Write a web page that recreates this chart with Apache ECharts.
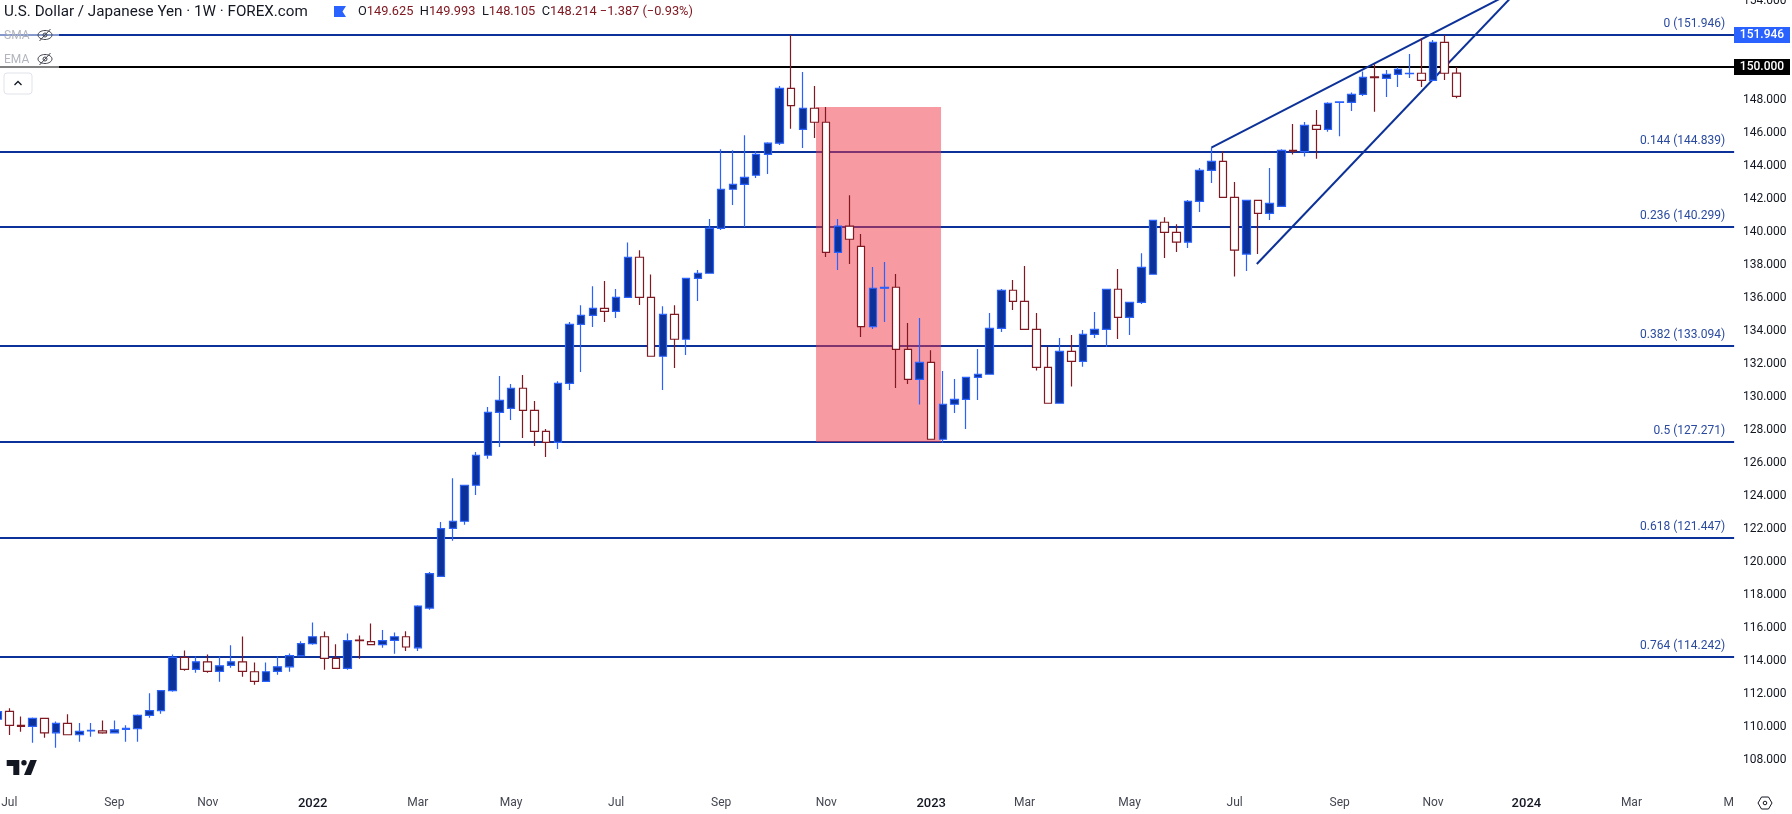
<!DOCTYPE html>
<html><head><meta charset="utf-8">
<style>html,body{margin:0;padding:0;background:#fff}#c{width:1792px;height:814px}</style>
<script src="https://cdn.jsdelivr.net/npm/echarts@6/dist/echarts.min.js"></script>
</head><body><div id="c"></div>
<script>
const opens=[110.47,110.95,110.10,110.04,110.52,109.65,110.22,109.53,109.77,109.77,109.65,109.86,109.90,110.70,110.99,112.20,114.22,113.49,113.95,113.37,113.73,113.95,113.35,112.76,113.37,113.65,114.32,115.05,115.47,114.16,113.55,115.27,115.17,114.99,115.25,115.47,114.80,117.21,119.13,122.04,122.47,124.65,126.47,129.07,129.31,130.53,129.19,127.92,127.25,130.83,134.40,134.95,135.37,135.19,136.04,138.47,136.04,132.47,135.01,133.50,137.19,137.50,140.22,142.59,142.89,143.44,144.71,145.38,148.71,146.22,147.50,146.65,138.77,140.35,139.13,134.26,136.59,136.65,132.89,131.07,132.10,127.44,129.56,129.86,131.19,131.38,134.16,136.47,135.80,134.10,131.80,129.62,132.77,132.16,133.80,134.10,136.53,134.83,135.74,137.44,140.59,139.98,139.38,141.86,143.74,144.28,142.10,138.66,141.92,141.13,141.55,144.95,144.87,146.46,146.22,147.86,147.86,148.34,149.40,149.31,149.55,149.60,149.62,149.19,151.49,149.625];
const closes=[110.93,110.10,110.04,110.52,109.65,110.22,109.53,109.73,109.79,109.65,109.83,109.92,110.70,110.99,112.20,114.22,113.49,113.95,113.37,113.71,113.95,113.37,112.76,113.35,113.65,114.32,115.05,115.47,114.16,113.55,115.23,115.23,114.99,115.23,115.47,114.85,117.33,119.30,122.02,122.47,124.65,126.47,129.07,129.80,130.53,129.19,127.92,127.25,130.83,134.40,134.95,135.37,135.19,136.04,138.47,136.04,132.47,135.01,133.50,137.19,137.50,140.22,142.59,142.89,143.31,144.71,145.38,148.71,147.66,147.50,146.65,138.77,140.35,139.56,134.26,136.59,136.65,132.89,131.07,132.10,127.44,129.56,129.86,131.19,131.38,134.16,136.47,135.80,134.10,131.80,129.62,132.77,132.16,133.80,134.10,136.53,134.83,135.74,137.86,140.71,139.98,139.38,141.86,143.74,144.28,142.10,138.90,141.92,141.13,141.74,144.95,144.90,146.46,146.22,147.80,147.88,148.34,149.37,149.35,149.55,149.86,149.62,149.19,151.49,149.62,148.214];
const lows=[110.30,109.51,109.71,109.05,109.35,108.74,109.53,109.11,109.41,109.59,109.65,109.11,109.11,110.56,110.80,112.14,113.41,113.29,113.29,112.74,113.59,113.05,112.56,112.76,113.17,113.35,114.32,114.99,113.47,113.55,113.47,114.14,114.99,114.80,114.44,114.60,114.60,117.10,119.13,121.29,122.26,124.06,126.26,126.97,128.61,127.52,127.03,126.36,126.85,130.42,131.52,134.24,134.55,134.79,136.04,135.58,132.47,130.42,131.76,132.55,135.82,137.50,140.12,141.64,140.30,143.27,143.52,145.27,146.26,145.09,145.70,138.49,137.70,138.06,133.64,134.12,134.55,130.55,130.79,129.54,127.44,127.22,129.03,128.06,129.82,131.38,133.94,135.27,134.10,131.60,129.62,129.62,130.63,131.84,133.58,133.03,133.52,133.76,135.64,137.44,138.43,138.79,139.03,141.21,142.97,142.10,137.30,137.64,138.66,140.73,141.55,144.69,144.57,144.44,146.08,145.80,147.33,148.24,147.29,148.18,148.79,149.33,148.79,149.19,149.21,148.105];
const highs=[111.05,111.13,110.64,110.58,110.52,110.34,110.78,110.24,110.24,110.40,110.40,110.10,110.76,112.04,112.20,114.40,114.64,114.28,114.40,114.28,114.95,115.49,113.91,113.91,114.28,114.46,115.19,116.34,115.79,115.01,115.67,115.55,116.28,115.88,115.73,115.80,117.38,119.40,122.42,125.07,124.65,126.67,129.39,131.27,130.79,131.33,129.76,128.06,130.95,134.55,135.56,136.71,137.03,136.55,139.37,138.89,137.43,135.50,135.56,137.19,137.70,140.79,145.01,144.95,145.86,144.89,145.44,148.85,151.94,149.70,148.85,147.58,140.79,142.22,139.88,137.88,138.18,137.45,134.49,134.79,132.83,131.58,131.09,131.19,132.91,135.09,136.55,137.09,137.94,135.09,133.05,133.58,133.76,134.06,135.15,136.53,137.76,135.74,138.71,140.71,140.89,140.47,141.94,143.88,145.11,144.89,143.03,141.92,141.92,143.88,145.01,146.54,146.67,147.39,147.86,147.92,148.46,149.72,150.16,149.82,149.98,150.79,151.74,151.64,151.946,149.993];

const barCount=150;
const weekStart=Date.UTC(2021,5,28);
const categories=Array.from({length:barCount},(_,k)=>new Date(weekStart+k*7*864e5).toISOString().slice(0,10));
const dateTickIndex=[1,10,18,27,36,44,53,62,71,80,88,97,106,115,123,131,140,148];
const dateTickLabels=['Jul','Sep','Nov','2022','Mar','May','Jul','Sep','Nov','2023','Mar','May','Jul','Sep','Nov','2024','Mar','M'];
const priceTicks=[108,110,112,114,116,118,120,122,124,126,128,130,132,134,136,138,140,142,144,146,148,154];
const priceTags=[151.946,150];

const fibRatios=['0','0.144','0.236','0.382','0.5','0.618','0.764'];
const fibPrices=[151.946,144.839,140.299,133.094,127.271,121.447,114.242];
const roundLevel=150;
const upperTrend=[[104,145.11],[130,154.6]];
const lowerTrend=[[107.9,138.06],[130.3,154.67]];
const zoneX=[70.13,80.84];
const zonePrice=[147.575,127.271];
const lastBarEnd=148.8;

const BLUE='#0c3299', UP='#2962ff', DOWN='#801922', FONT='Roboto, "Noto Sans", sans-serif';
const candleData=opens.map((o,i)=>[o,closes[i],lows[i],highs[i]]);
const yMin=106.485,yMax=154.06;

const fibLines=fibPrices.map((p,i)=>[
 {coord:[0,p],label:{formatter:fibRatios[i]+' ('+p.toFixed(3)+')'}},
 {coord:[lastBarEnd,p]}
]);
fibLines.push([{coord:[0,roundLevel],lineStyle:{color:'#000'},label:{show:false}},{coord:[lastBarEnd,roundLevel]}]);

const chart=echarts.init(document.getElementById('c'));
const strip=(x,y,w,h)=>({type:'rect',z:20,silent:true,shape:{x,y,width:w,height:h},style:{fill:'rgba(255,255,255,0.5)'}});
const txt=(x,y,text,fontSize,fill,extra)=>({type:'text',z:21,silent:true,x,y,style:Object.assign({text,fontFamily:FONT,fontSize,fill,textVerticalAlign:'middle'},extra||{})});
const eye=(cx,cy)=>({type:'group',z:21,silent:true,children:[
 {type:'ellipse',z:21,shape:{cx,cy,rx:7,ry:4.5},style:{fill:'none',stroke:'#434651',lineWidth:1}},
 {type:'circle',z:21,shape:{cx,cy,r:2},style:{fill:'none',stroke:'#434651',lineWidth:1}},
 {type:'line',z:21,shape:{x1:cx-5.5,y1:cy+6,x2:cx+5.5,y2:cy-6},style:{stroke:'#434651',lineWidth:1}}
]});
const tagStyle=bg=>({backgroundColor:bg,color:'#fff',fontFamily:FONT,fontSize:12,fontWeight:500,width:56,height:16,lineHeight:16,align:'center'});
chart.setOption({
 animation:false,
 backgroundColor:'#fff',
 grid:{left:-2.37,width:1738.83,top:0,bottom:29,outerBoundsMode:'none'},
 xAxis:[
  {type:'category',data:categories,boundaryGap:false,axisLine:{show:false},axisTick:{show:false},splitLine:{show:false},
   axisLabel:{customValues:dateTickIndex,margin:12,fontFamily:FONT,fontSize:12,color:'#434651',
    formatter:(v)=>{const k=categories.indexOf(v);const t=dateTickLabels[dateTickIndex.indexOf(k)];
      return /^\d{4}$/.test(t)?'{y|'+t+'}':t==='M'?'{m|'+t+'}':t;},
    rich:{y:{fontFamily:FONT,fontSize:13,fontWeight:500,color:'#131722'},m:{fontFamily:FONT,fontSize:12,color:'#434651',padding:[0,0,0,8]}}}},
  {type:'value',min:0,max:149,show:false}
 ],
 yAxis:[
  {type:'value',position:'right',min:yMin,max:yMax,axisLine:{show:false},axisTick:{show:false},splitLine:{show:false},
   axisLabel:{customValues:priceTicks,margin:6.5,padding:[2,0,0,0],fontFamily:FONT,fontSize:12,color:'#131722',formatter:v=>Number(v).toFixed(3)}},
  {type:'value',position:'right',min:yMin,max:yMax,z:10,axisLine:{show:false},axisTick:{show:false},splitLine:{show:false},
   axisLabel:{customValues:priceTags,margin:-2.46,
    formatter:v=>(v===priceTags[0]?'{b|':'{k|')+Number(v).toFixed(3)+'}',
    rich:{b:tagStyle('#2962ff'),k:tagStyle('#000')}}}
 ],
 series:[
  {type:'line',name:'levels',xAxisIndex:1,yAxisIndex:0,data:[],z:1,
   markLine:{z:1,silent:true,symbol:'none',animation:false,precision:3,
    lineStyle:{color:BLUE,width:2,type:'solid'},
    label:{position:'insideEndTop',color:'#2a4aa0',fontFamily:FONT,fontSize:12,distance:[9,5]},
    data:fibLines}},
  {type:'line',name:'zone',xAxisIndex:1,yAxisIndex:0,data:[],z:2,
   markArea:{z:2,silent:true,animation:false,itemStyle:{color:'rgba(242,54,69,0.5)'},
    data:[[{coord:[zoneX[0],zonePrice[0]]},{coord:[zoneX[1],zonePrice[1]]}]]}},
  {type:'line',name:'upperTrend',xAxisIndex:1,yAxisIndex:0,data:upperTrend,z:3,symbol:'none',lineStyle:{color:BLUE,width:2}},
  {type:'line',name:'lowerTrend',xAxisIndex:1,yAxisIndex:0,data:lowerTrend,z:3,symbol:'none',lineStyle:{color:BLUE,width:2}},
  {type:'candlestick',name:'USDJPY',xAxisIndex:0,yAxisIndex:0,data:candleData,z:5,barWidth:8,
   itemStyle:{color:BLUE,color0:'#ffffff',borderColor:UP,borderColor0:DOWN,borderColorDoji:null,borderWidth:1.2}}
 ],
 graphic:{elements:[
  strip(0,25,59,48),
  txt(4,12,'U.S. Dollar / Japanese Yen · 1W · FOREX.com',15.2,'#131722'),
  {type:'polygon',z:21,silent:true,shape:{points:[[334,6],[346,6],[342.5,11.5],[346,17],[334,17]]},style:{fill:'#2962ff'}},
  {type:'text',z:21,silent:true,x:358,y:12,style:{fontFamily:FONT,fontSize:13,fill:'#131722',textVerticalAlign:'middle',
    text:'{k|O}{v|149.625}  {k|H}{v|149.993}  {k|L}{v|148.105}  {k|C}{v|148.214} {v|−1.387 (−0.93%)}',
    rich:{k:{fontFamily:FONT,fontSize:12.8,fill:'#131722'},v:{fontFamily:FONT,fontSize:12.8,fill:'#801922'}}}},
  txt(4,36,'SMA',12,'#b2b5be'),eye(45,35),
  txt(4,60,'EMA',12,'#b2b5be'),eye(45,59),
  {type:'rect',z:21,silent:true,shape:{x:4,y:73,width:28,height:21,r:3},style:{fill:'#fff',stroke:'#e0e3eb',lineWidth:1}},
  {type:'polyline',z:22,silent:true,shape:{points:[[14.5,85],[18,81.5],[21.5,85]]},style:{fill:'none',stroke:'#131722',lineWidth:1.3}},
  {type:'polygon',z:21,silent:true,shape:{points:[[6.7,760],[19.3,760],[19.3,775],[13.3,775],[13.3,766],[6.7,766]]},style:{fill:'#131722'}},
  {type:'circle',z:21,silent:true,shape:{cx:24,cy:762.7,r:2.7},style:{fill:'#131722'}},
  {type:'polygon',z:21,silent:true,shape:{points:[[30.3,760],[36.8,760],[31,775],[24,775]]},style:{fill:'#131722'}},
  {type:'polygon',z:21,silent:true,shape:{points:[[1761.5,797],[1768.5,797],[1772,803],[1768.5,809],[1761.5,809],[1758,803]]},style:{fill:'none',stroke:'#131722',lineWidth:1}},
  {type:'circle',z:21,silent:true,shape:{cx:1765,cy:803,r:1.8},style:{fill:'none',stroke:'#131722',lineWidth:1}}
 ]}
});
</script></body></html>
